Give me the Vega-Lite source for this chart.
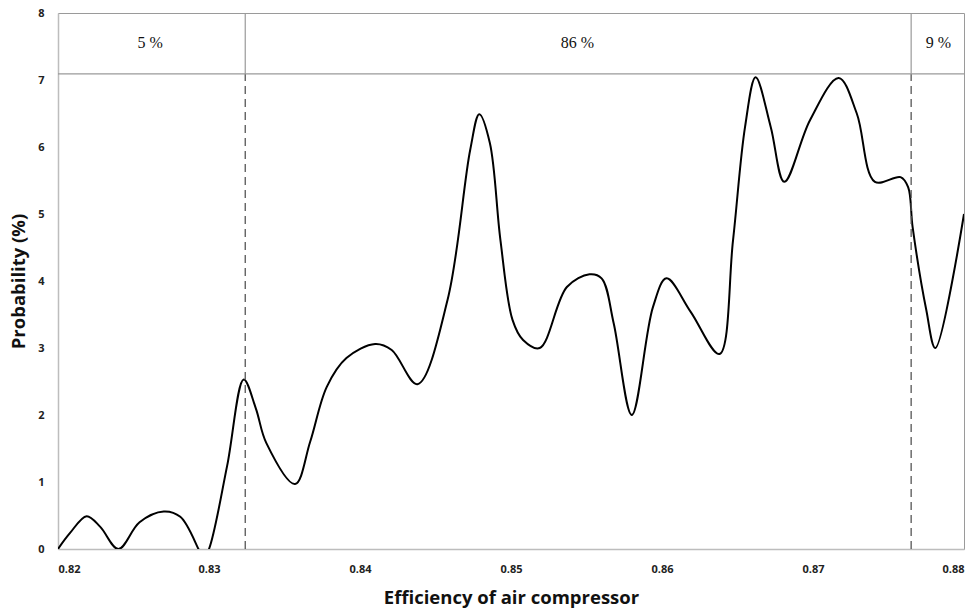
{
  "$schema": "https://vega.github.io/schema/vega-lite/v6.json",
  "width": 906,
  "height": 536,
  "autosize": {"type": "none"},
  "padding": {"left": 58, "top": 13, "right": 14, "bottom": 67},
  "background": "white",
  "config": {
    "view": {"stroke": "#9a9a9a", "strokeWidth": 1},
    "axis": {"grid": false, "ticks": false, "domainColor": "#bdbdbd", "domainWidth": 1.5,
      "labelFont": "Open Sans", "labelFontWeight": "bold", "labelFontSize": 11, "labelColor": "#222",
      "titleFont": "Open Sans", "titleFontWeight": "bold", "titleFontSize": 18.5, "titleColor": "#111"}
  },
  "datasets": {
    "curve": [
      {"eff": 0.8200, "p": 0.0},
      {"eff": 0.8208, "p": 0.24},
      {"eff": 0.8219, "p": 0.49},
      {"eff": 0.8228, "p": 0.33},
      {"eff": 0.8240, "p": 0.0},
      {"eff": 0.8254, "p": 0.4},
      {"eff": 0.8270, "p": 0.56},
      {"eff": 0.8281, "p": 0.48},
      {"eff": 0.8293, "p": 0.0},
      {"eff": 0.8296, "p": -0.15},
      {"eff": 0.8300, "p": 0.0},
      {"eff": 0.8312, "p": 1.24},
      {"eff": 0.8323, "p": 2.53},
      {"eff": 0.8331, "p": 2.1},
      {"eff": 0.8338, "p": 1.58},
      {"eff": 0.8357, "p": 0.97},
      {"eff": 0.8367, "p": 1.6},
      {"eff": 0.8378, "p": 2.42},
      {"eff": 0.8391, "p": 2.85},
      {"eff": 0.8410, "p": 3.06},
      {"eff": 0.8421, "p": 2.97},
      {"eff": 0.8438, "p": 2.46},
      {"eff": 0.8458, "p": 3.72},
      {"eff": 0.8473, "p": 5.96},
      {"eff": 0.8479, "p": 6.49},
      {"eff": 0.8486, "p": 6.06},
      {"eff": 0.8493, "p": 4.61},
      {"eff": 0.8501, "p": 3.42},
      {"eff": 0.8508, "p": 3.12},
      {"eff": 0.8519, "p": 3.0},
      {"eff": 0.8537, "p": 3.91},
      {"eff": 0.8552, "p": 4.1},
      {"eff": 0.8560, "p": 4.04},
      {"eff": 0.8568, "p": 3.37},
      {"eff": 0.8580, "p": 2.0},
      {"eff": 0.8594, "p": 3.61},
      {"eff": 0.8603, "p": 4.04},
      {"eff": 0.8619, "p": 3.54},
      {"eff": 0.8638, "p": 2.91},
      {"eff": 0.8647, "p": 4.6},
      {"eff": 0.8655, "p": 6.3},
      {"eff": 0.8662, "p": 7.04},
      {"eff": 0.8672, "p": 6.3},
      {"eff": 0.8681, "p": 5.48},
      {"eff": 0.8698, "p": 6.4},
      {"eff": 0.8717, "p": 7.03},
      {"eff": 0.8729, "p": 6.5},
      {"eff": 0.8741, "p": 5.48},
      {"eff": 0.8758, "p": 5.55},
      {"eff": 0.8763, "p": 5.4},
      {"eff": 0.8766, "p": 4.8},
      {"eff": 0.8775, "p": 3.57},
      {"eff": 0.8781, "p": 3.0},
      {"eff": 0.8800, "p": 5.0}
    ],
    "bounds": [
      {"eff": 0.8324, "lo": 0, "mid": 7.09, "hi": 8},
      {"eff": 0.8765, "lo": 0, "mid": 7.09, "hi": 8}
    ],
    "band": [
      {"lo": 0.82, "hi": 0.88, "y": 7.09}
    ],
    "labels": [
      {"eff": 0.8261, "y": 7.55, "t": "5 %"},
      {"eff": 0.8544, "y": 7.55, "t": "86 %"},
      {"eff": 0.8783, "y": 7.55, "t": "9 %"}
    ]
  },
  "layer": [
    {
      "data": {"name": "curve"},
      "mark": {"type": "line", "interpolate": "catmull-rom", "color": "#000", "strokeWidth": 2, "clip": true},
      "encoding": {
        "x": {"field": "eff", "type": "quantitative",
          "scale": {"domain": [0.82, 0.88], "nice": false, "zero": false},
          "axis": {"values": [0.82, 0.83, 0.84, 0.85, 0.86, 0.87, 0.88], "format": ".2f",
            "labelPadding": 14, "title": "Efficiency of air compressor", "titlePadding": 14}},
        "y": {"field": "p", "type": "quantitative",
          "scale": {"domain": [0, 8], "nice": false},
          "axis": {"values": [0, 1, 2, 3, 4, 5, 6, 7, 8], "format": "d", "labelPadding": 14,
            "title": "Probability (%)", "titlePadding": 9}}
      }
    },
    {
      "data": {"name": "bounds"},
      "mark": {"type": "rule", "color": "#555", "strokeWidth": 1.3, "strokeDash": [8, 5]},
      "encoding": {
        "x": {"field": "eff", "type": "quantitative"},
        "y": {"field": "lo", "type": "quantitative"},
        "y2": {"field": "mid"}
      }
    },
    {
      "data": {"name": "bounds"},
      "mark": {"type": "rule", "color": "#9a9a9a", "strokeWidth": 1.2},
      "encoding": {
        "x": {"field": "eff", "type": "quantitative"},
        "y": {"field": "mid", "type": "quantitative"},
        "y2": {"field": "hi"}
      }
    },
    {
      "data": {"name": "band"},
      "mark": {"type": "rule", "color": "#9a9a9a", "strokeWidth": 1.2},
      "encoding": {
        "x": {"field": "lo", "type": "quantitative"},
        "x2": {"field": "hi"},
        "y": {"field": "y", "type": "quantitative"}
      }
    },
    {
      "data": {"name": "labels"},
      "mark": {"type": "text", "font": "Liberation Serif", "fontSize": 16, "color": "#111"},
      "encoding": {
        "x": {"field": "eff", "type": "quantitative"},
        "y": {"field": "y", "type": "quantitative"},
        "text": {"field": "t"}
      }
    }
  ]
}
